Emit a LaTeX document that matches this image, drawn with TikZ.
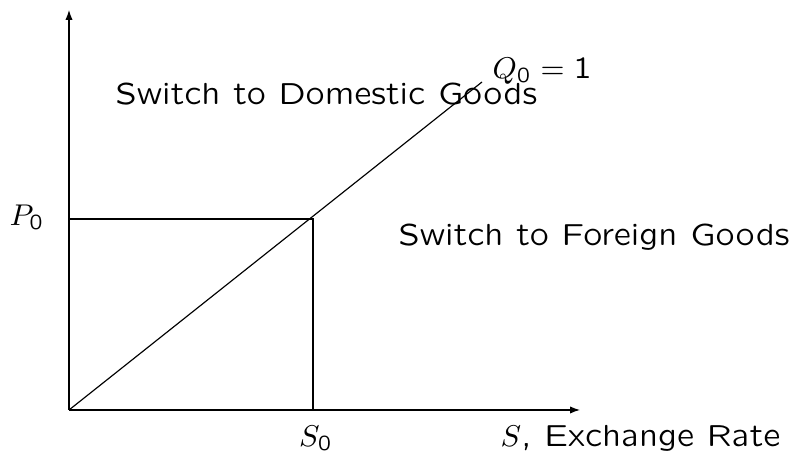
\documentclass[tikz,border=0pt]{standalone}
\usepackage{amsmath}
\usetikzlibrary{arrows.meta}
\font\lcmA=lcmss8 at 9.15pt
\font\lcmB=lcmss8 at 6.4pt
\newcommand\zsub{\hbox{\lcmB 0}}
\tikzset{
  ln/.style={line width=0.35pt},
  ax/.style={ln,-{Latex[length=3pt,width=2.2pt]}},
  lbl/.style={inner sep=0pt,font=\fontsize{9.15}{11}\selectfont\lcmA},
}
\begin{document}
\begin{tikzpicture}[x=0.3pt,y=-0.3pt]
\useasboundingbox (0,0) rectangle (789,452);
\coordinate (O) at (69,410);
\coordinate (X) at (580,410);
\coordinate (Y) at (69,10);
\coordinate (D) at (482,82);
\coordinate (P) at (69,219);
\coordinate (C) at (313,219);
\coordinate (S) at (313,410);
\draw[ax] (O) -- (X);
\draw[ax] (O) -- (Y);
\draw[ln] (O) -- (D);
\draw[ln] (P) -- (C) -- (S);
\node[lbl,anchor=base west] (p0) at (9,226) {$P_{\zsub}$};
\node[lbl,anchor=base] (s0) at (316,447) {$S_{\zsub}$};
\node[lbl,anchor=base west] (sx) at (500,447) {$S$, Exchange Rate};
\node[lbl,anchor=base west] (q0) at (492,79) {$Q_{\zsub} = \hbox{\lcmA 1}$};
\node[lbl,anchor=base west] (dom) at (115,105) {Switch to Domestic Goods};
\node[lbl,anchor=base west] (for) at (398,246) {Switch to Foreign Goods};
\end{tikzpicture}
\end{document}
